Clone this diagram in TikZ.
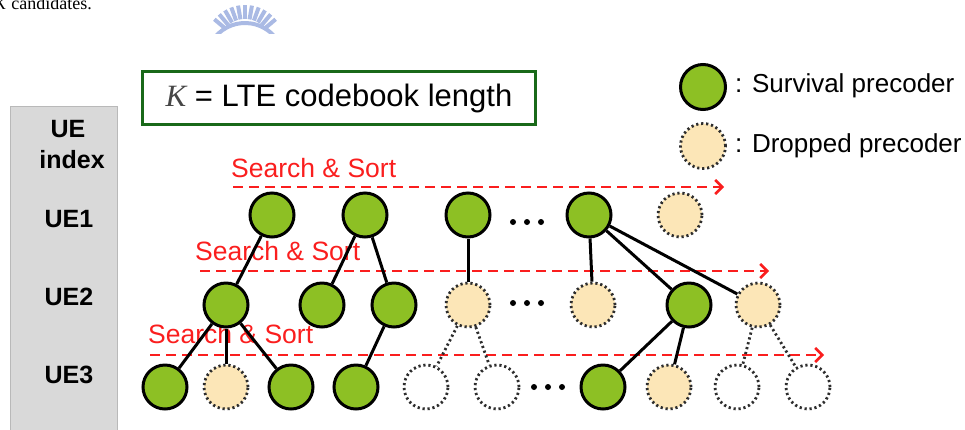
\documentclass[tikz,border=0pt]{standalone}
\usepackage{fontspec}
\setmainfont{Liberation Sans}
\newfontfamily\timesfont{Liberation Serif}
\usetikzlibrary{arrows.meta}

\definecolor{survgreen}{RGB}{141,192,36}
\definecolor{dropfill}{RGB}{252,230,183}
\definecolor{dotgray}{RGB}{45,45,45}
\definecolor{searchred}{RGB}{250,30,30}
\definecolor{framegreen}{RGB}{25,105,25}
\definecolor{panelfill}{RGB}{217,217,217}
\definecolor{panelline}{RGB}{185,185,185}
\definecolor{logoblue}{RGB}{170,186,228}

\tikzset{
  survive/.style={circle, minimum size=44pt, inner sep=0pt, fill=survgreen, draw=black, line width=3pt},
  dropped/.style={circle, minimum size=44pt, inner sep=0pt, fill=dropfill, draw=dotgray, line width=2.8pt, dash pattern=on 2.2pt off 2.8pt},
  unused/.style={circle, minimum size=44pt, inner sep=0pt, fill=white, draw=dotgray, line width=2.8pt, dash pattern=on 2.2pt off 2.8pt},
  link/.style={draw=black, line width=3pt},
  deadlink/.style={draw=dotgray, line width=2.8pt, dash pattern=on 2.2pt off 2.8pt},
  sweep/.style={draw=searchred, line width=2.6pt, dash pattern=on 10pt off 6pt, -{Straight Barb[length=7pt,width=14pt,line width=2.6pt]}},
  sweeplabel/.style={anchor=base west, inner sep=0pt, text=searchred, font=\fontsize{26.5}{31}\selectfont},
  uelabel/.style={anchor=base, inner sep=0pt, font=\fontsize{25}{30}\selectfont\bfseries},
  legendtext/.style={anchor=west, inner sep=0pt, font=\fontsize{26}{31}\selectfont},
}

\begin{document}
\begin{tikzpicture}[x=1pt, y=-1pt]
\useasboundingbox (0,0) rectangle (965,429);

% running text of the page above the figure
\node[anchor=base west, inner sep=0pt, font=\timesfont\fontsize{18}{22}\selectfont] (pagetext) at (-6,9) {\textit{K} candidates.};

% faint seal
\begin{scope}
  \clip (190,0) rectangle (300,33);
  \foreach \a in {40,50,...,140}
    \draw[logoblue, line width=4pt] (245,45) ++(-\a:26) -- ++(-\a:14);
  \draw[logoblue, line width=4pt] (245,62) ++(-140:39) arc[start angle=-140, end angle=-40, radius=39];
\end{scope}

% UE index column
\fill[panelfill, draw=panelline, line width=1pt] (10,106) rectangle (117,432);
\node[uelabel] (ue)    at (68,137) {UE};
\node[uelabel] (index) at (72,168) {index};
\node[uelabel] (ue1)   at (69,227) {UE1};
\node[uelabel] (ue2)   at (69,305) {UE2};
\node[uelabel] (ue3)   at (69,383) {UE3};

% codebook length box
\node[draw=framegreen, line width=3.2pt, minimum width=393pt, minimum height=53pt, inner sep=0pt,
      font=\fontsize{31}{37}\selectfont] (kbox) at (339,98)
  {{\timesfont\itshape\color[RGB]{70,70,70}K} = LTE codebook length};

% legend
\node[survive, minimum size=45pt] (legs) at (703,87) {};
\node[dropped, minimum size=45pt] (legd) at (703,146) {};
\node[legendtext] (legst) at (735,86) {: Survival precoder};
\node[legendtext] (legdt) at (735,146) {: Dropped precoder};

% sweep arrows and their labels
\coordinate (s1a) at (233,187); \coordinate (s1b) at (724,187);
\coordinate (s2a) at (200,271); \coordinate (s2b) at (769,271);
\coordinate (s3a) at (150,355); \coordinate (s3b) at (824,355);
\node[sweeplabel] (lab1) at (231,177) {Search \& Sort};
\node[sweeplabel] (lab2) at (195,260) {Search \& Sort};
\node[sweeplabel] (lab3) at (148,343) {Search \& Sort};
\draw[sweep] (s1a) -- (s1b);
\draw[sweep] (s2a) -- (s2b);
\draw[sweep] (s3a) -- (s3b);

% first user
\node[survive] (a1) at (272,215) {};
\node[survive] (a2) at (365,215) {};
\node[survive] (a3) at (468,215) {};
\node[survive] (a4) at (589,215) {};
\node[dropped] (a5) at (680,215) {};

% second user
\node[survive] (b1) at (226,305) {};
\node[survive] (b2) at (322,305) {};
\node[survive] (b3) at (394,305) {};
\node[dropped] (b4) at (468,305) {};
\node[dropped] (b5) at (593,305) {};
\node[survive] (b6) at (689,305) {};
\node[dropped] (b7) at (758,305) {};

% third user
\node[survive] (c1) at (165,387) {};
\node[dropped] (c2) at (226,387) {};
\node[survive] (c3) at (291,387) {};
\node[survive] (c4) at (356,387) {};
\node[unused]  (c5) at (426,387) {};
\node[unused]  (c6) at (497,387) {};
\node[survive] (c7) at (603,387) {};
\node[dropped] (c8) at (669,387) {};
\node[unused]  (c9) at (737,387) {};
\node[unused]  (c10) at (808,387) {};

% branches
\draw[link] (a1) -- (b1);
\draw[link] (a2) -- (b2);
\draw[link] (a2) -- (b3);
\draw[link] (a3) -- (b4);
\draw[link] (a4) -- (b5);
\draw[link] (a4) -- (b6);
\draw[link] (a4) -- (b7);
\draw[link] (b1) -- (c1);
\draw[link] (b1) -- (c2);
\draw[link] (b1) -- (c3);
\draw[link] (b3) -- (c4);
\draw[link] (b6) -- (c7);
\draw[link] (b6) -- (c8);
\draw[deadlink] (b4) -- (c5);
\draw[deadlink] (b4) -- (c6);
\draw[deadlink] (b7) -- (c9);
\draw[deadlink] (b7) -- (c10);

% omitted candidates
\foreach \x in {513,527,541} \fill (\x,222) circle (3pt);
\foreach \x in {513,527,541} \fill (\x,303) circle (3pt);
\foreach \x in {534,548,562} \fill (\x,387) circle (3pt);
\end{tikzpicture}
\end{document}
